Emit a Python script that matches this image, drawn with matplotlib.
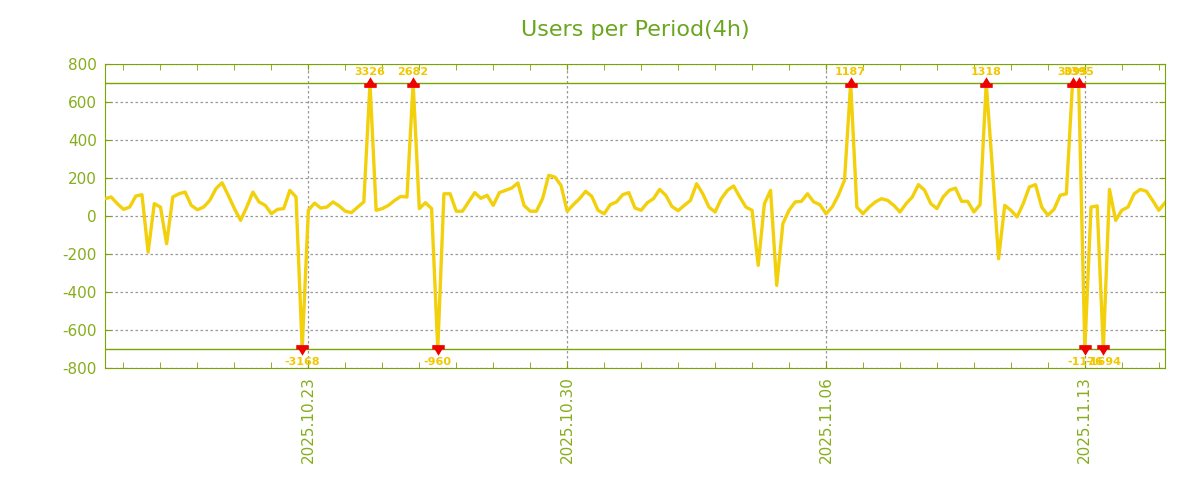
import matplotlib
matplotlib.use("Agg")
import matplotlib.pyplot as plt
import matplotlib.dates as mdates
from matplotlib.path import Path
import numpy as np
import pandas as pd

plt.rcParams["axes.unicode_minus"] = False

# users per 4h period
start = "2025-10-17 12:00"
users = [
    91, 100, 65, 35, 47, 105, 112, -190, 65, 47, -146, 100, 117, 126, 56, 33,
    47, 82, 144, 175, 109, 39, -23, 47, 126, 74, 56, 12, 35, 39, 135, 100, -3168,
    30, 68, 42, 47, 74, 53, 25, 18, 47, 74, 3326, 30, 39, 56, 82, 103, 100, 2682,
    39, 70, 39, -960, 117, 117, 25, 25, 74, 123, 93, 109,
    56, 123, 135, 147, 174, 56, 25, 25, 91, 214, 205, 161, 25, 60, 91, 130, 103,
    30, 12, 60, 74, 112, 123, 42, 30, 70, 91, 140, 109, 50, 28,
    56, 82, 170, 117, 47, 21, 91, 135, 158, 100, 47, 30, -260, 65, 135, -365,
    -40, 30, 74, 77, 117, 74, 60, 12, 47, 109, 188, 1187, 47, 12, 47,
    74, 91, 82, 56, 21, 65, 100, 165, 135, 65, 39, 100, 135, 147, 77, 77, 21,
    60, 1318, 250, -225, 56, 30, -5, 65, 153, 165, 47, 4, 35, 109,
    117, 3095, 3395, -1176, 47, 53, -1694, 140, -23, 30, 47, 117, 140, 130, 82,
    30, 70,
]
limit = 700

times = pd.date_range(start, periods=len(users), freq="4h")
vals = np.array(users, dtype=float)
clipped = np.clip(vals, -limit, limit)

green = "#7aa400"
label_green = "#86ad1c"
yellow = "#f2d00c"

# marker shapes: bar on the threshold line with a triangle pointing outward
up_marker = Path(
    [(-1, -0.7), (1, -0.7), (1, 0), (-1, 0), (-1, -0.7),
     (-0.6, 0), (0.6, 0), (0, 1.0), (-0.6, 0)],
    [Path.MOVETO, Path.LINETO, Path.LINETO, Path.LINETO, Path.CLOSEPOLY,
     Path.MOVETO, Path.LINETO, Path.LINETO, Path.CLOSEPOLY])
down_marker = Path(
    [(-1, 0.7), (1, 0.7), (1, 0), (-1, 0), (-1, 0.7),
     (-0.6, 0), (0.6, 0), (0, -1.0), (-0.6, 0)],
    [Path.MOVETO, Path.LINETO, Path.LINETO, Path.LINETO, Path.CLOSEPOLY,
     Path.MOVETO, Path.LINETO, Path.LINETO, Path.CLOSEPOLY])

fig = plt.figure(figsize=(12, 5), dpi=100)
ax = fig.add_axes([0.0875, 0.264, 0.8833, 0.608])

ax.plot(times, clipped, color=yellow, lw=2.4, zorder=3)

ax.axhline(limit, color=green, lw=1, zorder=2)
ax.axhline(-limit, color=green, lw=1, zorder=2)

hi = vals > limit
lo = vals < -limit
ax.plot(times[hi], clipped[hi], ls="none", marker=up_marker, ms=9,
        color="#ee0000", mew=0, zorder=4)
ax.plot(times[lo], clipped[lo], ls="none", marker=down_marker, ms=9,
        color="#ee0000", mew=0, zorder=4)
for t, v in zip(times[hi], vals[hi]):
    ax.annotate(f"{int(v)}", (t, limit), xytext=(0, 8), textcoords="offset points",
                ha="center", va="center", fontsize=8, fontweight="bold",
                color="#f0c800", zorder=5)
for t, v in zip(times[lo], vals[lo]):
    ax.annotate(f"{int(v)}", (t, -limit), xytext=(0, -9.5), textcoords="offset points",
                ha="center", va="center", fontsize=8, fontweight="bold",
                color="#f0c800", zorder=5)

ax.set_xlim(times[0], times[-1])
ax.set_ylim(-800, 800)
ax.set_yticks(np.arange(-800, 801, 200))

ax.xaxis.set_major_locator(mdates.WeekdayLocator(byweekday=mdates.TH))
ax.xaxis.set_minor_locator(mdates.DayLocator())
ax.xaxis.set_major_formatter(mdates.DateFormatter("%Y.%m.%d"))

ax.grid(True, which="major", color="#999999", ls=(0, (2, 2)), lw=0.9)
ax.tick_params(axis="x", which="both", direction="in", top=True, bottom=True,
               color=green, labelcolor=label_green, labelsize=11,
               labelrotation=90, pad=6)
ax.tick_params(axis="x", which="minor", length=4)
ax.tick_params(axis="x", which="major", length=4)
ax.tick_params(axis="y", direction="in", left=True, right=True, length=4,
               color=green, labelcolor=label_green, labelsize=11, pad=6)
for s in ax.spines.values():
    s.set_color(green)

ax.set_title("Users per Period(4h)", color="#6aa61e", fontsize=16, pad=20)

fig.savefig("out.png", dpi=100)
